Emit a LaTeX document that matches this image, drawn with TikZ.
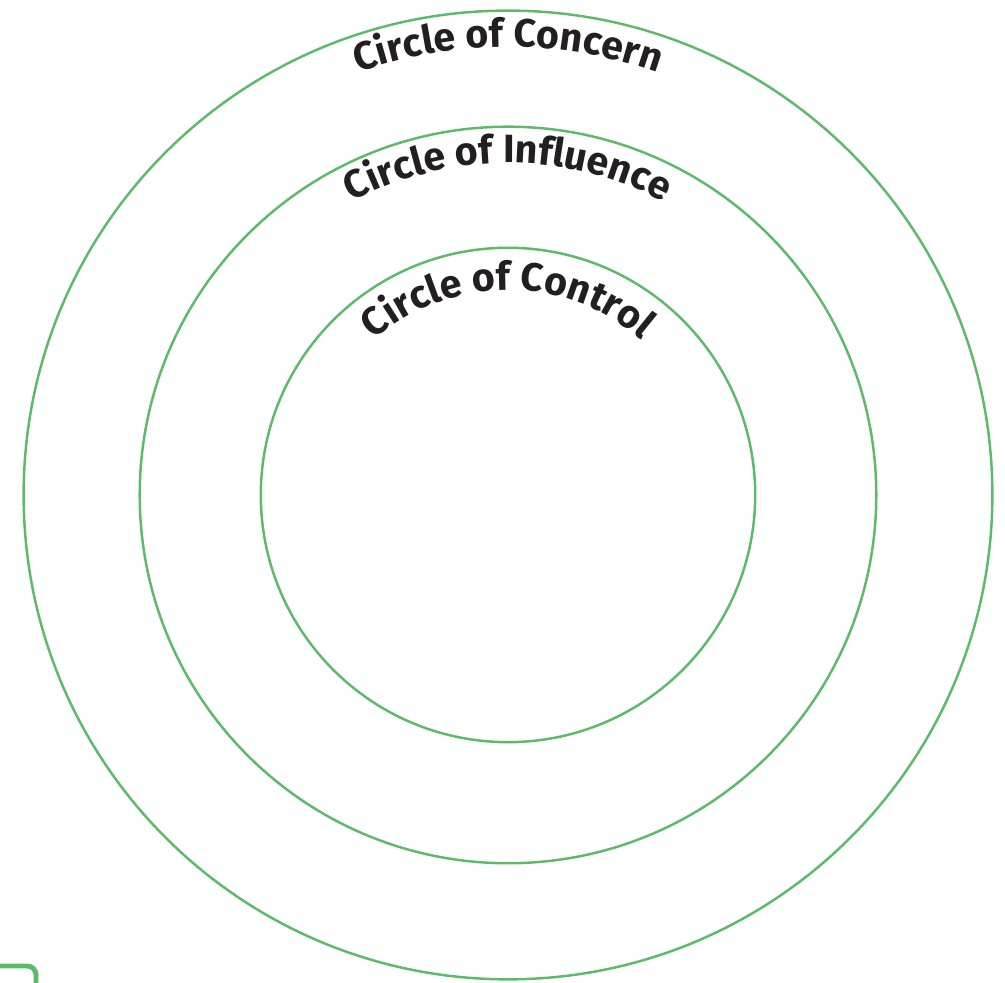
\documentclass[tikz,border=0pt]{standalone}
\usepackage{fontspec}
\setmainfont{Fira Sans}
\usetikzlibrary{calc,decorations.text}
\definecolor{leaf}{HTML}{5CBB69}
\definecolor{ink} {HTML}{231F20}
\newcommand{\ringfont}{\fontsize{11.2}{13}\selectfont\bfseries\color{ink}}

\begin{document}
\begin{tikzpicture}[x=0.01cm,y=0.01cm,
    ring/.style={circle, draw=leaf, line width=0.7pt, inner sep=0pt}]
  \useasboundingbox (0,0) rectangle (1005,983);
  \coordinate (ctr) at (508,488);
  \foreach \name/\r in {concern/484, influence/368, control/247}{
    \node[ring, minimum size=\r*0.02cm] (\name) at (ctr) {};
  }
  % labels along the top of each ring
  \path[decorate, decoration={text along path, text align=center,
      text={|\ringfont|Circle of Concern}}]
    ($(ctr)+(170:448)$) arc[start angle=170, end angle=10, radius=448];
  \path[decorate, decoration={text along path, text align=center,
      text={|\ringfont|Circle of Influence}}]
    ($(ctr)+(170:332)$) arc[start angle=170, end angle=10, radius=332];
  \path[decorate, decoration={text along path, text align=center,
      text={|\ringfont|Circle of Control}}]
    ($(ctr)+(170:205)$) arc[start angle=170, end angle=10, radius=205];
  % corner of a box cut off at the bottom left
  \draw[leaf, line width=1.4pt, rounded corners=2.5pt] (-10,17) -- (36,17) -- (36,-10);
\end{tikzpicture}
\end{document}
